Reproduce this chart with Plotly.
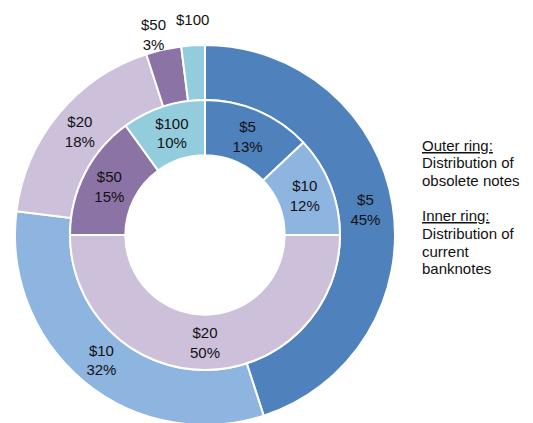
import plotly.graph_objects as go

notes = ["$5", "$10", "$20", "$50", "$100"]
colors = ["#4F81BD", "#8EB4E0", "#CCC0DA", "#8C73A5", "#93CDDD"]

# outer ring: obsolete notes, inner ring: current banknotes (percent)
obsolete = [45, 32, 18, 3, 2]
current = [13, 12, 50, 15, 10]

note_lines = ["<u>Outer ring:</u>", "Distribution of", "obsolete notes", "",
              "<u>Inner ring:</u>", "Distribution of", "current", "banknotes"]

W, H = 533, 423
OFF = 8  # page body margin in the browser


def px_x(x):
    return (x - OFF) / W


def px_y(y):
    return 1 - (y - OFF) / H


outer_text = [f"{n}<br>{v}%" for n, v in zip(notes, obsolete)]
outer_pos = ["inside", "inside", "inside", "none", "none"]

inner_text = [f"{n}<br>{v}%" for n, v in zip(notes, current)]

font = dict(family="Liberation Sans, Arial, sans-serif", size=15, color="#111111")

cx, cy = 205, 235  # ring centre on screen
r_out, r_in = 190, 135

fig = go.Figure()

fig.add_trace(go.Pie(
    labels=notes,
    values=obsolete,
    text=outer_text,
    textinfo="text",
    textposition=outer_pos,
    insidetextorientation="horizontal",
    textfont=font,
    sort=False,
    direction="clockwise",
    rotation=0,
    hole=0.71,
    marker=dict(colors=colors, line=dict(color="white", width=2)),
    domain=dict(x=[px_x(cx - r_out), px_x(cx + r_out)],
                y=[px_y(cy + r_out), px_y(cy - r_out)]),
    showlegend=False,
    hoverinfo="label+percent",
))

fig.add_trace(go.Pie(
    labels=notes,
    values=current,
    text=inner_text,
    textinfo="text",
    textposition="inside",
    insidetextorientation="horizontal",
    textfont=font,
    sort=False,
    direction="clockwise",
    rotation=0,
    hole=0.59,
    marker=dict(colors=colors, line=dict(color="white", width=2)),
    domain=dict(x=[px_x(cx - r_in), px_x(cx + r_in)],
                y=[px_y(cy + r_in), px_y(cy - r_in)]),
    showlegend=False,
    hoverinfo="label+percent",
))

# small outer slices are labelled outside the ring
fig.add_annotation(x=px_x(153), y=px_y(35), xref="paper", yref="paper",
                   xanchor="center", yanchor="middle",
                   showarrow=False, text=outer_text[3], font=font)
fig.add_annotation(x=px_x(192), y=px_y(19), xref="paper", yref="paper",
                   xanchor="center", yanchor="middle",
                   showarrow=False, text=notes[4], font=font)

for i, line in enumerate(note_lines):
    if not line:
        continue
    fig.add_annotation(
        x=px_x(420), y=px_y(145 + 17.7 * i), xref="paper", yref="paper",
        xanchor="left", yanchor="middle", align="left", showarrow=False,
        text=line, font=font,
    )

fig.update_layout(
    width=W, height=H,
    margin=dict(l=0, r=0, t=0, b=0),
    paper_bgcolor="white",
    plot_bgcolor="white",
)

fig.write_html("out.html")
